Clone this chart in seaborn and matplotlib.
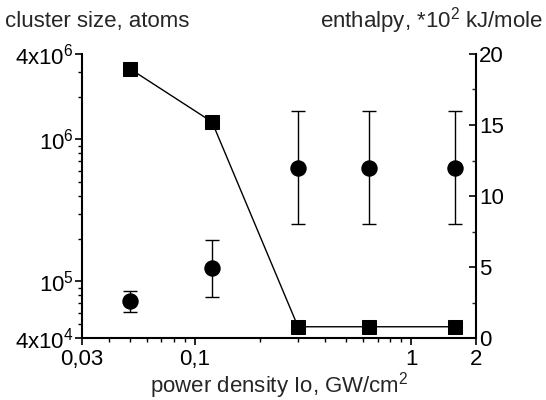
import numpy as np
import pandas as pd
import matplotlib
matplotlib.use("Agg")
import matplotlib.pyplot as plt
import matplotlib.ticker as mticker
import seaborn as sns

# data
power = [0.05, 0.12, 0.3, 0.64, 1.6]
cluster_size = [3.15e6, 1.33e6, 4.8e4, 4.8e4, 4.8e4]
enthalpy = [2.6, 4.9, 12.0, 12.0, 12.0]
enthalpy_err_low = [0.75, 2.0, 4.0, 4.0, 4.0]
enthalpy_err_high = [0.7, 2.0, 4.0, 4.0, 4.0]

x_ticks = [0.03, 0.1, 1, 2]
x_ticklabels = ["0,03", "0,1", "1", "2"]
y_ticks = [4e4, 1e5, 1e6, 4e6]
y_ticklabels = ["4x10$^{4}$", "10$^{5}$", "10$^{6}$", "4x10$^{6}$"]
y2_ticks = [0, 5, 10, 15, 20]

sns.set_style("ticks")
plt.rcParams["font.family"] = ["Liberation Sans", "DejaVu Sans"]
plt.rcParams["mathtext.fontset"] = "custom"
plt.rcParams["mathtext.rm"] = "Liberation Sans"
plt.rcParams["mathtext.it"] = "Liberation Sans"
plt.rcParams["mathtext.bf"] = "Liberation Sans"

fs = 16
fig = plt.figure(figsize=(5.46, 4.0), dpi=100)
ax = fig.add_axes([0.150, 0.155, 0.722, 0.71])
ax2 = ax.twinx()

df1 = pd.DataFrame({"power": power, "cluster": cluster_size})
sns.lineplot(data=df1, x="power", y="cluster", ax=ax, color="black", lw=1.0,
             marker="s", markersize=10.5, markeredgecolor="black", markerfacecolor="black")

df2 = pd.DataFrame({"power": power, "enthalpy": enthalpy})
ax2.errorbar(power, enthalpy, yerr=[enthalpy_err_low, enthalpy_err_high], fmt="none",
             ecolor="black", elinewidth=1.0, capsize=5, capthick=1.0)
sns.scatterplot(data=df2, x="power", y="enthalpy", ax=ax2, color="black", s=140,
                marker="o", edgecolor="black", linewidth=0)

ax.set_xscale("log")
ax.set_yscale("log")
ax.set_xlim(0.03, 2)
ax.set_ylim(4e4, 4e6)
ax2.set_ylim(0, 20)

ax.set_xticks(x_ticks)
ax.set_xticklabels(x_ticklabels, fontsize=fs)
ax.xaxis.set_minor_locator(mticker.LogLocator(base=10, subs=np.arange(2, 10)))
ax.xaxis.set_minor_formatter(mticker.NullFormatter())
ax.set_yticks(y_ticks)
ax.set_yticklabels(y_ticklabels, fontsize=fs)
ax.yaxis.set_minor_locator(mticker.LogLocator(base=10, subs=np.arange(2, 10)))
ax.yaxis.set_minor_formatter(mticker.NullFormatter())

ax2.set_yticks(y2_ticks)
ax2.set_yticklabels([str(v) for v in y2_ticks], fontsize=fs)
ax2.yaxis.set_minor_locator(mticker.MultipleLocator(2.5))

ax.tick_params(axis="x", which="major", length=5, width=1.2, direction="out", pad=3, colors="black")
ax.tick_params(axis="y", which="major", length=5, width=1.2, direction="out", pad=1, colors="black")
ax.tick_params(axis="both", which="minor", length=3, width=1.0, direction="out", colors="black")
ax2.tick_params(axis="y", which="major", length=5, width=1.2, direction="in", pad=2, colors="black")
ax2.tick_params(axis="y", which="minor", length=3, width=1.0, direction="in")

for a in (ax, ax2):
    for s in a.spines.values():
        s.set_linewidth(1.5)
        s.set_color("black")
    a.spines["top"].set_visible(False)
ax.spines["right"].set_visible(False)
ax2.spines["left"].set_visible(False)
ax2.spines["bottom"].set_visible(False)

ax.set_xlabel("power density Io, GW/cm$^{2}$", fontsize=fs, labelpad=0)
ax.set_ylabel("")
ax2.set_ylabel("")

fig.text(0.01, 0.932, "cluster size, atoms", fontsize=fs, ha="left", va="baseline")
fig.text(0.995, 0.932, "enthalpy, *10$^{2}$ kJ/mole", fontsize=fs, ha="right", va="baseline")

fig.savefig("out.png", dpi=100)
